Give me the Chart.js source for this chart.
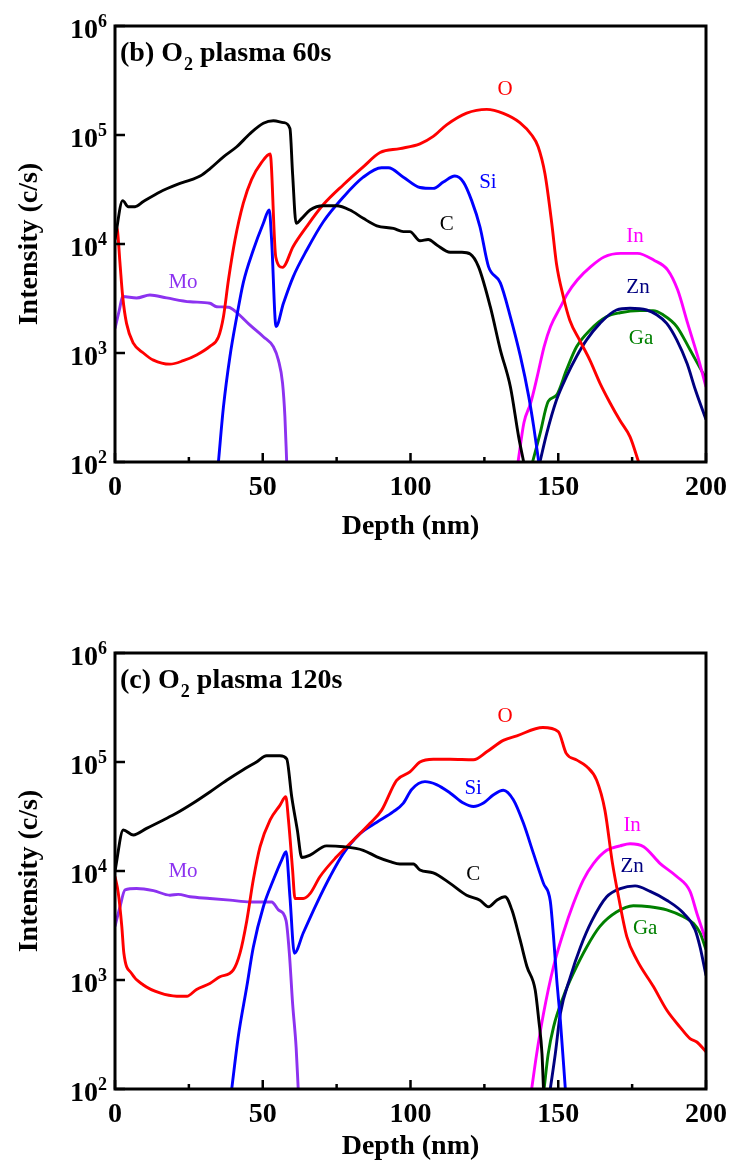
<!DOCTYPE html>
<html>
<head>
<meta charset="utf-8">
<title>SIMS depth profiles</title>
<script src="https://cdn.jsdelivr.net/npm/chart.js@4.4.1/dist/chart.umd.min.js"></script>
<style>
  html, body { margin: 0; padding: 0; background: #fff; }
  canvas { display: block; }
</style>
</head>
<body>
<canvas id="chartB" width="730" height="583"></canvas>
<canvas id="chartC" width="730" height="583"></canvas>
<script>
// ---- axes ----
const xMajorTicks = [0, 50, 100, 150, 200];
const xMinorTicks = [25, 75, 125, 175];
const xTickLabels = ["0", "50", "100", "150", "200"];
const yMajorTicks = [1e2, 1e3, 1e4, 1e5, 1e6];
const yTickExponents = ["2", "3", "4", "5", "6"];

// ---- (b) O2 plasma 60s ----
const cDepthB = [0, 2.6, 4.5, 6.8, 9.6, 15.2, 20.9, 25.9, 28.8, 32.1, 36.7, 41.2, 45.7, 50.2, 53.6, 57.0, 59.2, 60.1, 61.3, 63.2, 66, 70.5, 75, 79.5, 84, 88.6, 94.2, 97.6, 99.8, 103.2, 106, 108.9, 113.4, 117.4, 120.2, 123, 127, 130.4, 133.8, 136.6, 138.3];
const cIntB = [1.1e4, 2.5e4, 2.2e4, 2.2e4, 2.45e4, 3.0e4, 3.5e4, 3.9e4, 4.2e4, 4.9e4, 6.3e4, 7.8e4, 1.03e5, 1.28e5, 1.35e5, 1.3e5, 1.15e5, 4.4e4, 1.55e4, 1.72e4, 2.05e4, 2.24e4, 2.24e4, 2.05e4, 1.72e4, 1.47e4, 1.39e4, 1.3e4, 1.3e4, 1.07e4, 1.1e4, 9.8e3, 8.4e3, 8.4e3, 8.1e3, 6.2e3, 2.66e3, 1.07e3, 490, 170, 100];

const oDepthB = [0, 0.8, 1.7, 2.6, 3.9, 6.2, 9.6, 13, 18.6, 23.1, 27.6, 32.1, 35, 36.7, 38.4, 40.6, 43.4, 46.2, 49.6, 52.5, 54.4, 56.7, 60.3, 64.9, 70.5, 77.3, 84, 89.7, 96.4, 103.2, 107.7, 112.2, 119, 125.8, 131.4, 137, 141, 143.2, 145.5, 147.8, 149.4, 151.7, 153.9, 157.3, 160.7, 164.1, 167.5, 170.9, 174.3, 177.2];
const oIntB = [1.5e4, 1.35e4, 6.6e3, 3.3e3, 1.87e3, 1.23e3, 1.0e3, 860, 790, 850, 960, 1.15e3, 1.4e3, 2.15e3, 4.7e3, 1.09e4, 2.36e4, 3.9e4, 5.6e4, 6.7e4, 7.6e3, 6.1e3, 9.5e3, 1.45e4, 2.3e4, 3.5e4, 5.1e4, 6.9e4, 7.5e4, 8.3e4, 9.7e4, 1.24e5, 1.59e5, 1.72e5, 1.58e5, 1.3e5, 1.0e5, 7.8e4, 4.4e4, 1.55e4, 6.6e3, 3.3e3, 2.0e3, 1.3e3, 860, 530, 350, 240, 170, 100];

const siDepthB = [35, 36.7, 38.9, 41.2, 43.4, 46.8, 50.2, 52.2, 53, 54.5, 57, 60.3, 64.9, 70.5, 77.3, 84, 90.2, 92.5, 97.6, 103.2, 107.7, 111.1, 115, 117.9, 120.7, 123.5, 126.4, 130.4, 133.8, 137.2, 140, 141.7, 143.4];
const siIntB = [100, 320, 930, 2.15e3, 4.4e3, 8.8e3, 1.55e4, 2.05e4, 1.09e4, 1.75e3, 2.86e3, 5.0e3, 8.8e3, 1.6e4, 2.7e4, 4.1e4, 5.0e4, 5.0e4, 4.1e4, 3.3e4, 3.24e4, 3.7e4, 4.2e4, 3.7e4, 2.5e4, 1.44e4, 6.2e3, 4.4e3, 2.15e3, 930, 400, 210, 100];

const moDepthB = [0, 1.5, 2.6, 7.3, 11.8, 17.5, 25.4, 32.1, 34.4, 38.4, 41.2, 45.7, 50.2, 53.6, 55.3, 56.7, 57.5, 58.1];
const moIntB = [1.68e3, 2.5e3, 3.3e3, 3.2e3, 3.4e3, 3.2e3, 2.95e3, 2.86e3, 2.66e3, 2.63e3, 2.35e3, 1.8e3, 1.41e3, 1.14e3, 860, 530, 260, 100];

const inDepthB = [136.4, 138.4, 140.7, 142.9, 145.2, 147.4, 150.8, 153.1, 156.5, 161, 165.5, 171.1, 176.8, 182.4, 187, 190.4, 193.8, 197.2, 200];
const inIntB = [100, 230, 350, 610, 1.14e3, 1.75e3, 2.66e3, 3.5e3, 4.7e3, 6.2e3, 7.6e3, 8.2e3, 8.2e3, 7.1e3, 5.8e3, 3.8e3, 1.87e3, 930, 490];

const znDepthB = [143.8, 146.1, 149.4, 152.8, 156.2, 159.6, 164.1, 169.7, 174.3, 179.9, 183.3, 186.7, 190.1, 193.6, 196.4, 200];
const znIntB = [100, 183, 370, 610, 930, 1.32e3, 1.87e3, 2.48e3, 2.57e3, 2.48e3, 2.24e3, 1.87e3, 1.32e3, 800, 460, 245];

const gaDepthB = [141.3, 143.8, 146.6, 149.4, 152.8, 156.2, 160.7, 166.3, 170.9, 177.6, 182.1, 185.5, 190.1, 194.6, 200];
const gaIntB = [100, 180, 360, 410, 700, 1.14e3, 1.62e3, 2.15e3, 2.34e3, 2.45e3, 2.45e3, 2.24e3, 1.75e3, 1.07e3, 580];

// ---- (c) O2 plasma 120s ----
const cDepthC = [0, 2.8, 6.2, 10.7, 16.4, 20.9, 26.5, 32.1, 37.8, 43.4, 47.9, 51.3, 55.8, 58.1, 59.8, 61.7, 63.2, 66, 71.6, 77.3, 84, 88.6, 93.1, 96.4, 101, 103.2, 107.7, 113.4, 119, 123.5, 126.4, 129.2, 132, 134.3, 137.1, 139.4, 142.2, 143.4, 144.5, 145];
const cIntC = [1.0e4, 2.38e4, 2.14e4, 2.46e4, 2.94e4, 3.4e4, 4.2e4, 5.3e4, 6.8e4, 8.5e4, 1.0e5, 1.14e5, 1.14e5, 1.07e5, 4.8e4, 2.38e4, 1.33e4, 1.4e4, 1.7e4, 1.67e4, 1.55e4, 1.35e4, 1.22e4, 1.16e4, 1.16e4, 1.02e4, 9.6e3, 7.7e3, 6.0e3, 5.4e3, 4.7e3, 5.4e3, 5.8e3, 4.4e3, 2.33e3, 1.33e3, 810, 430, 210, 100];

const oDepthC = [0, 1.1, 2.3, 3.0, 5.6, 9.6, 15.2, 20.9, 24.3, 27.6, 32.1, 35.5, 40, 42.3, 44.6, 46.8, 49.1, 52.5, 55.8, 57.8, 58.7, 60.1, 60.9, 63.7, 66, 69.4, 75, 80.7, 86.3, 90.2, 95.3, 99.8, 103.2, 107.7, 113.4, 121.3, 125.8, 131.4, 136, 144.8, 150, 152.7, 156.3, 159.6, 163, 165.8, 168.3, 170.4, 173.2, 176.6, 182.2, 186.7, 191.2, 194.6, 196.9, 200];
const oIntC = [8.9e3, 6.3e3, 3.1e3, 1.76e3, 1.15e3, 900, 760, 710, 710, 820, 930, 1.07e3, 1.23e3, 1.76e3, 3.5e3, 8.3e3, 1.67e4, 2.94e4, 4.0e4, 4.8e4, 2.94e4, 1.02e4, 5.6e3, 5.6e3, 6.2e3, 8.9e3, 1.35e4, 1.92e4, 2.74e4, 3.6e4, 6.8e4, 8.1e4, 1.0e5, 1.06e5, 1.06e5, 1.05e5, 1.24e5, 1.58e5, 1.74e5, 2.07e5, 1.9e5, 1.2e5, 1.04e5, 9.1e4, 6.8e4, 3.6e4, 1.2e4, 5.8e3, 2.5e3, 1.53e3, 870, 530, 370, 290, 270, 220];

const siDepthC = [39.5, 41.7, 44.6, 46.8, 50.2, 53.6, 56.4, 57.9, 59.2, 60.7, 63.7, 68.2, 72.8, 77.3, 82.9, 88.6, 94.2, 97.6, 100.4, 104.9, 108.8, 113.4, 117.9, 121.3, 124.7, 128.1, 131.4, 134.8, 138.2, 141.6, 145, 147.3, 148.4, 149.5, 150.7, 152.4];
const siIntC = [100, 300, 870, 2.0e3, 4.7e3, 8.3e3, 1.26e4, 1.5e4, 5.8e3, 1.76e3, 2.7e3, 5.0e3, 8.9e3, 1.45e4, 2.2e4, 2.8e4, 3.5e4, 4.2e4, 5.6e4, 6.6e4, 6.2e4, 5.2e4, 4.2e4, 3.9e4, 4.2e4, 5.0e4, 5.5e4, 4.5e4, 2.75e4, 1.45e4, 7.7e3, 5.3e3, 2.5e3, 1.0e3, 430, 100];

const moDepthC = [0, 1.7, 3.4, 7.3, 13, 18.6, 21.4, 25.4, 32.1, 38.9, 45.7, 53, 55.3, 57.9, 59, 60.1, 61.3, 62];
const moIntC = [3.1e3, 4.7e3, 6.7e3, 6.9e3, 6.6e3, 6.0e3, 6.1e3, 5.8e3, 5.6e3, 5.4e3, 5.2e3, 5.2e3, 4.4e3, 3.5e3, 1.76e3, 610, 240, 100];

const inDepthC = [141, 142.7, 145, 148.4, 151.7, 155.1, 158.5, 161.9, 166.4, 170.9, 174.3, 178.9, 184.5, 190.1, 194.6, 196.9, 200];
const inIntC = [100, 210, 490, 1.33e3, 2.7e3, 5.0e3, 8.3e3, 1.17e4, 1.55e4, 1.7e4, 1.78e4, 1.67e4, 1.17e4, 8.9e3, 6.5e3, 4.1e3, 2.3e3];

const znDepthC = [147.3, 149, 150.7, 154.1, 157.5, 161.4, 166.4, 171, 176, 181.1, 186.7, 192.4, 196.3, 198, 200];
const znIntC = [100, 210, 490, 1.07e3, 2.0e3, 3.5e3, 5.8e3, 6.9e3, 7.3e3, 6.5e3, 5.4e3, 4.1e3, 2.9e3, 2.0e3, 1.1e3];

const gaDepthC = [145.2, 146.6, 148.4, 151.7, 155.1, 159.6, 164.1, 169.7, 175.4, 181, 186.7, 192.4, 195.8, 198, 200];
const gaIntC = [100, 210, 370, 700, 1.15e3, 2.0e3, 3.1e3, 4.2e3, 4.8e3, 4.7e3, 4.4e3, 3.8e3, 3.3e3, 2.7e3, 1.9e3];

// element labels written inside the plot (depth, intensity where the text sits)
const labelNames = ["O", "Si", "C", "Mo", "In", "Zn", "Ga"];
const labelDepthB = [132, 126.2, 112.3, 23, 176, 177, 178];
const labelIntB = [2.59e5, 3.7e4, 1.52e4, 4.4e3, 1.16e4, 4.0e3, 1.37e3];
const labelDepthC = [132, 121.2, 121.2, 23, 175, 175, 179.4];
const labelIntC = [2.59e5, 5.75e4, 9.2e3, 9.8e3, 2.64e4, 1.09e4, 3.0e3];

const colors = { C: "#000000", O: "#ff0000", Si: "#0000ff", Mo: "#8c32f0", In: "#ff00ff", Zn: "#000080", Ga: "#008000" };
const serif = "'Liberation Serif', 'Times New Roman', serif";

function pts(depths, ints) {
    return depths.map((d, i) => ({ x: d, y: ints[i] }));
}

function line(ctx, x1, y1, x2, y2) {
    ctx.beginPath();
    ctx.moveTo(x1, y1);
    ctx.lineTo(x2, y2);
    ctx.stroke();
}

// frame, inward ticks, tick labels, panel title and element labels
function decorations(panelTag, panelRest, labelDepth, labelInt) {
    return {
        id: "decorations",
        afterDraw(chart) {
            const { ctx, chartArea: a, scales: { x, y } } = chart;
            ctx.save();
            ctx.strokeStyle = "#000";
            ctx.fillStyle = "#000";
            ctx.lineWidth = 3;
            ctx.strokeRect(a.left, a.top, a.right - a.left, a.bottom - a.top);

            ctx.lineWidth = 2.5;
            xMajorTicks.forEach(v => {
                const px = x.getPixelForValue(v);
                line(ctx, px, a.bottom, px, a.bottom - 9);
            });
            xMinorTicks.forEach(v => {
                const px = x.getPixelForValue(v);
                line(ctx, px, a.bottom, px, a.bottom - 5);
            });
            yMajorTicks.forEach(v => {
                const py = y.getPixelForValue(v);
                line(ctx, a.left, py, a.left + 10, py);
            });

            // x tick labels
            ctx.font = "bold 28px " + serif;
            ctx.textAlign = "center";
            ctx.textBaseline = "alphabetic";
            xMajorTicks.forEach((v, i) => {
                ctx.fillText(xTickLabels[i], x.getPixelForValue(v), a.bottom + 33);
            });

            // y tick labels 10^n
            yMajorTicks.forEach((v, i) => {
                const py = y.getPixelForValue(v);
                ctx.font = "bold 28px " + serif;
                ctx.textAlign = "right";
                ctx.fillText("10", 98, py + 12);
                ctx.font = "bold 18px " + serif;
                ctx.textAlign = "left";
                ctx.fillText(yTickExponents[i], 98, py + 1);
            });

            // panel title with subscript
            ctx.textAlign = "left";
            let tx = a.left + 5;
            const ty = a.top + 35;
            ctx.font = "bold 28px " + serif;
            ctx.fillText(panelTag + " O", tx, ty);
            tx += ctx.measureText(panelTag + " O").width;
            ctx.font = "bold 18px " + serif;
            ctx.fillText("2", tx + 1, ty + 9);
            tx += ctx.measureText("2").width + 1;
            ctx.font = "bold 28px " + serif;
            ctx.fillText(panelRest, tx, ty);

            // element labels
            ctx.font = "21px " + serif;
            ctx.textAlign = "center";
            ctx.textBaseline = "middle";
            labelNames.forEach((name, i) => {
                ctx.fillStyle = colors[name];
                ctx.fillText(name, x.getPixelForValue(labelDepth[i]), y.getPixelForValue(labelInt[i]));
            });
            ctx.restore();
        }
    };
}

function makeChart(id, series, deco, topPad, xAxisHeight, xTitlePad) {
    const datasets = ["C", "O", "Si", "Mo", "In", "Zn", "Ga"].map(name => ({
        label: name,
        data: series[name],
        borderColor: colors[name],
        borderWidth: 2.9,
        pointRadius: 0,
        cubicInterpolationMode: "monotone",
        fill: false
    }));
    return new Chart(document.getElementById(id).getContext("2d"), {
        type: "line",
        data: { datasets: datasets },
        options: {
            responsive: false,
            animation: false,
            layout: { padding: { top: topPad, right: 24, left: 0, bottom: 0 } },
            plugins: { legend: { display: false }, tooltip: { enabled: false } },
            scales: {
                x: {
                    type: "linear",
                    min: 0,
                    max: 200,
                    grid: { display: false },
                    border: { display: false },
                    ticks: { display: false },
                    title: {
                        display: true,
                        text: "Depth (nm)",
                        color: "#000",
                        font: { family: serif, size: 28, weight: "bold" },
                        padding: { top: 0, bottom: xTitlePad }
                    },
                    afterFit: function (scale) { scale.height = xAxisHeight; }
                },
                y: {
                    type: "logarithmic",
                    min: 100,
                    max: 1e6,
                    grid: { display: false },
                    border: { display: false },
                    ticks: { display: false },
                    title: {
                        display: true,
                        text: "Intensity (c/s)",
                        color: "#000",
                        font: { family: serif, size: 28, weight: "bold" },
                        padding: { top: 13, bottom: 0 }
                    },
                    afterFit: function (scale) { scale.width = 115; }
                }
            }
        },
        plugins: [deco]
    });
}

makeChart("chartB", {
    C: pts(cDepthB, cIntB), O: pts(oDepthB, oIntB), Si: pts(siDepthB, siIntB), Mo: pts(moDepthB, moIntB),
    In: pts(inDepthB, inIntB), Zn: pts(znDepthB, znIntB), Ga: pts(gaDepthB, gaIntB)
}, decorations("(b)", " plasma 60s", labelDepthB, labelIntB), 26, 121, 39);

makeChart("chartC", {
    C: pts(cDepthC, cIntC), O: pts(oDepthC, oIntC), Si: pts(siDepthC, siIntC), Mo: pts(moDepthC, moIntC),
    In: pts(inDepthC, inIntC), Zn: pts(znDepthC, znIntC), Ga: pts(gaDepthC, gaIntC)
}, decorations("(c)", " plasma 120s", labelDepthC, labelIntC), 70, 77, 2);
</script>
</body>
</html>
